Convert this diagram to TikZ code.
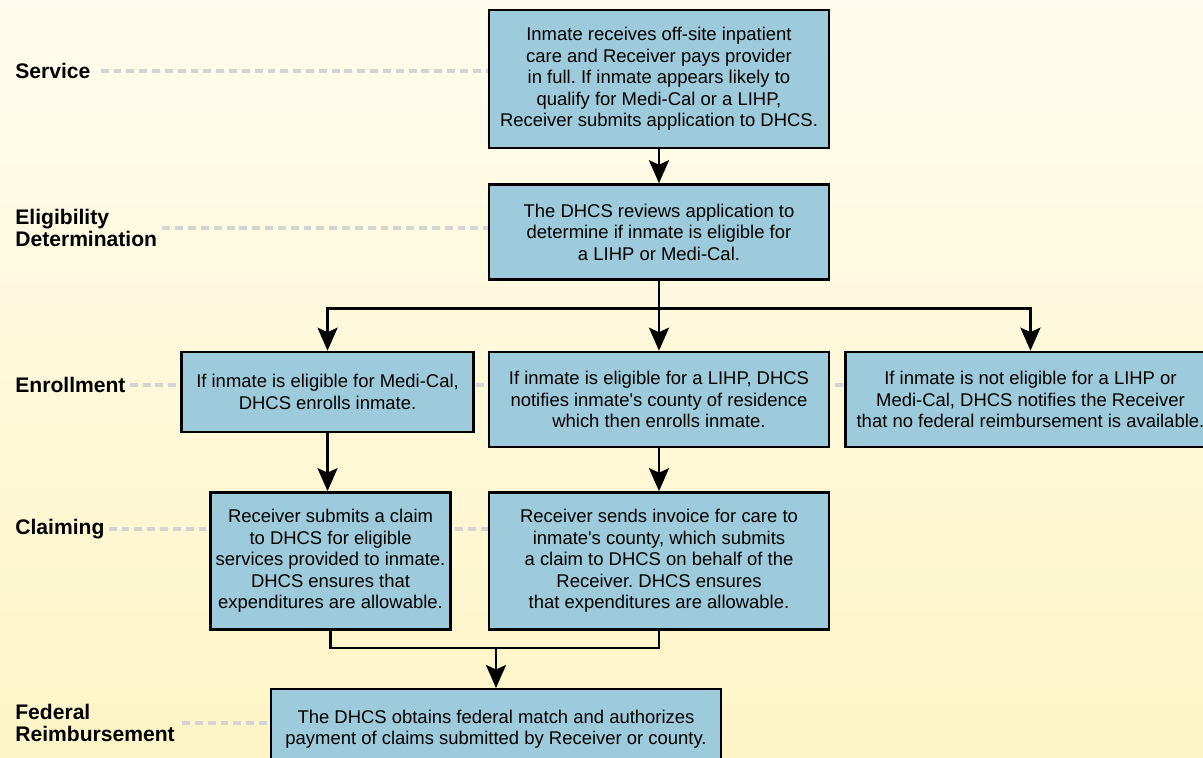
\documentclass[tikz,border=0pt]{standalone}
\usepackage{fontspec}
\setmainfont{Liberation Sans}
\usetikzlibrary{positioning,arrows.meta}

\definecolor{boxblue}{RGB}{157,203,220}
\definecolor{guidegray}{RGB}{212,212,212}
\definecolor{bgtop}{RGB}{255,252,237}
\definecolor{bgbottom}{RGB}{253,245,198}

\pgfdeclarelayer{back}
\pgfdeclarelayer{mid}
\pgfsetlayers{back,mid,main}
\frenchspacing

\begin{document}
\begin{tikzpicture}[
		node distance=0.68cm and 0.26cm,
		stepbox/.style={draw,line width=1.4pt,fill=boxblue,align=center,inner sep=2pt,
			font=\fontsize{10.5}{12.2}\selectfont},
		phase/.style={anchor=west,align=left,inner sep=0pt,
			font=\bfseries\fontsize{12}{12.5}\selectfont},
		guide/.style={line width=2.3pt,guidegray,dash pattern=on 4.5pt off 2.8pt},
		link/.style={line width=1.5pt},
		flow/.style={link,-{Stealth[length=4.6mm,width=4mm,inset=0.9mm]}}
		]
		\useasboundingbox (0,0) rectangle (24.06,-15.14);
		\begin{pgfonlayer}{back}
		\shade[top color=bgtop,bottom color=bgbottom] (0,0) rectangle (24.06,-15.14);
		\end{pgfonlayer}
		\clip (0,0) rectangle (24.06,-15.14);
		% middle column
		\node[stepbox,minimum width=6.8cm,minimum height=2.76cm] (service) at (13.18,-1.58)
		{Inmate receives off-site inpatient\\care and Receiver pays provider\\in full. If inmate appears likely to\\qualify for Medi-Cal or a LIHP,\\Receiver submits application to DHCS.};
		\node[stepbox,minimum width=6.8cm,minimum height=1.9cm,below=of service] (eligib)
		{The DHCS reviews application to\\determine if inmate is eligible for\\a LIHP or Medi-Cal.};
		\node[stepbox,minimum width=6.8cm,minimum height=1.9cm,below=1.4cm of eligib] (lihp)
		{If inmate is eligible for a LIHP, DHCS\\notifies inmate\textquotesingle s county of residence\\which then enrolls inmate.};
		\node[stepbox,minimum width=6.8cm,minimum height=2.74cm,below=0.86cm of lihp] (claimlihp)
		{Receiver sends invoice for care to\\inmate\textquotesingle s county, which submits\\a claim to DHCS on behalf of the\\Receiver. DHCS ensures\\that expenditures are allowable.};
		% side boxes
		\node[stepbox,minimum width=5.84cm,minimum height=1.6cm,anchor=north east] (medical)
		at ([xshift=-0.26cm]lihp.north west)
		{If inmate is eligible for Medi-Cal,\\DHCS enrolls inmate.};
		\node[stepbox,minimum width=7.4cm,minimum height=1.9cm,anchor=north west] (noelig)
		at ([xshift=0.28cm]lihp.north east)
		{If inmate is not eligible for a LIHP or\\Medi-Cal, DHCS notifies the Receiver\\that no federal reimbursement is available.};
		\node[stepbox,minimum width=4.8cm,minimum height=2.74cm,anchor=north east] (claimmc)
		at ([xshift=-0.72cm]claimlihp.north west)
		{Receiver submits a claim\\to DHCS for eligible\\services provided to inmate.\\DHCS ensures that\\expenditures are allowable.};
		\node[stepbox,minimum width=9cm,minimum height=1.6cm,anchor=north] (reimb) at (9.92,-13.76)
		{The DHCS obtains federal match and authorizes\\payment of claims submitted by Receiver or county.};
		% phase labels
		\node[phase] (lblservice) at (0.3,-1.42) {Service};
		\node[phase] (lbleligib) at (0.3,-4.56) {Eligibility\\Determination};
		\node[phase] (lblenrol) at (0.3,-7.7) {Enrollment};
		\node[phase] (lblclaim) at (0.3,-10.58) {Claiming};
		\node[phase] (lblreimb) at (0.3,-14.46) {Federal\\Reimbursement};
		% dotted guides, behind the boxes
		\begin{pgfonlayer}{mid}
		\draw[guide] ([xshift=0.2cm]lblservice.east) -- (service.west |- lblservice.east);
		\draw[guide] ([xshift=0.1cm]lbleligib.east) -- (eligib.west |- lbleligib.east);
		\draw[guide] ([xshift=0.08cm]lblenrol.east) -- (noelig.west |- lblenrol.east);
		\draw[guide] ([xshift=0.08cm]lblclaim.east) -- (claimlihp.west |- lblclaim.east);
		\draw[guide] ([xshift=0.14cm]lblreimb.east) -- (reimb.west |- lblreimb.east);
		\end{pgfonlayer}
		% connectors
		\coordinate[below=0.56cm of eligib.south] (fork);
		\coordinate (join) at (9.92,-12.96);
		\draw[flow] (service) -- (eligib);
		\draw[link] (eligib) -- (fork);
		\draw[flow] (fork) -| (medical.north);
		\draw[flow] (fork) -- (lihp);
		\draw[flow] (fork) -| (noelig.north);
		\draw[flow] (medical.south) -- (medical.south |- claimmc.north);
		\draw[flow] (lihp) -- (claimlihp);
		\draw[link] (claimmc.south) |- (claimlihp.south |- join) -- (claimlihp.south);
		\draw[flow] (join) -- (reimb.north);
	\end{tikzpicture}
\end{document}
